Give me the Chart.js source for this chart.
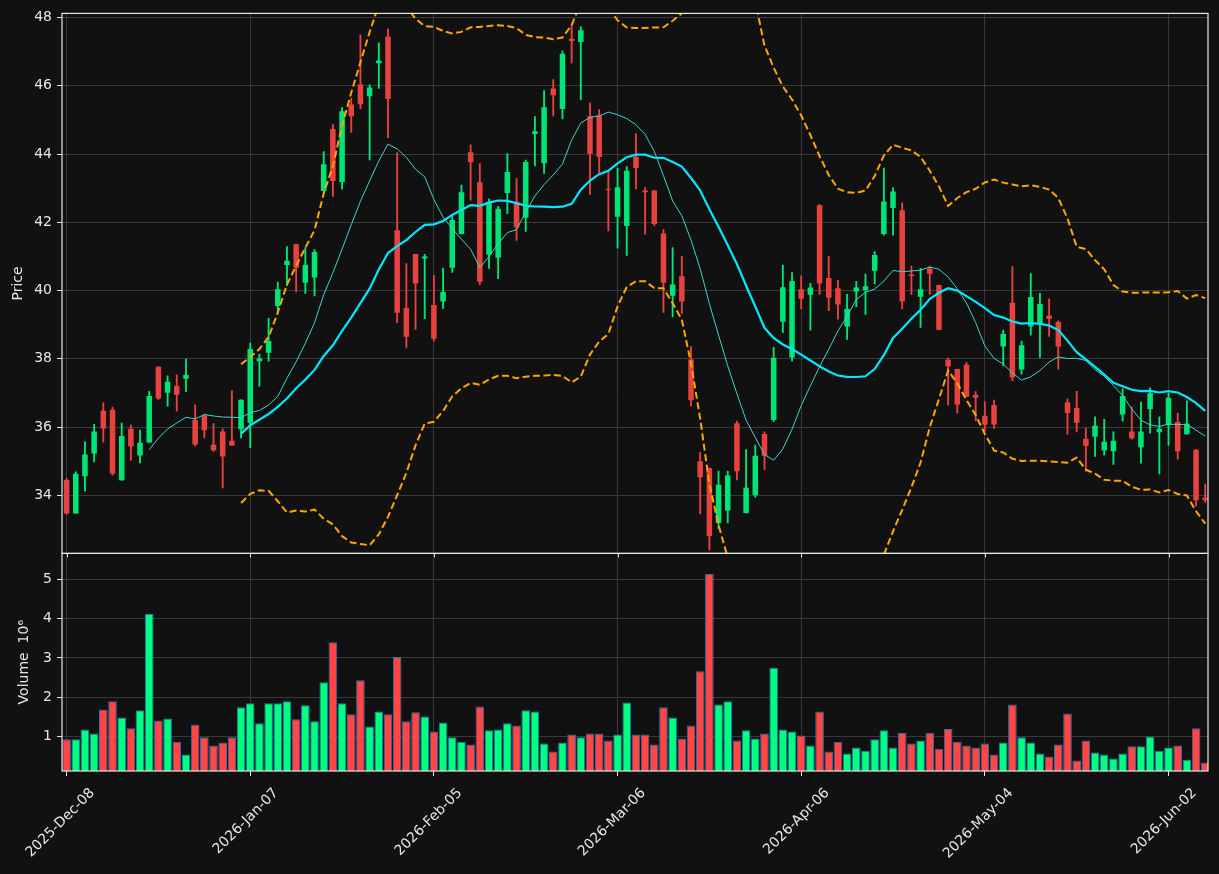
<!DOCTYPE html>
<html>
<head>
<meta charset="utf-8">
<script src="https://cdn.jsdelivr.net/npm/chart.js@4.4.1/dist/chart.umd.min.js"></script>
<style>
  html, body { margin: 0; padding: 0; background: #111111; }
  #wrap { width: 1219px; height: 874px; }
</style>
</head>
<body>
<div id="wrap"><canvas id="chartStock" width="1219" height="874"></canvas></div>
<script>
// daily OHLC (index 0 = 2025-12-08), volume in millions
const opens = [34.45,33.47,34.56,35.23,36.48,36.51,34.44,35.95,35.17,35.55,
  37.77,37.01,37.21,37.42,36.21,36.35,35.48,35.87,35.60,35.94,
  36.13,37.93,38.18,39.55,40.75,41.36,40.23,40.38,42.92,44.73,
  43.18,45.45,46.04,45.69,46.66,47.44,41.77,39.49,41.07,40.94,
  39.58,39.68,40.67,41.66,44.05,43.17,41.06,40.96,42.86,42.61,
  42.13,44.59,43.73,45.92,45.32,47.38,47.28,45.11,45.13,42.98,
  42.16,41.89,43.92,42.93,42.93,41.67,39.85,40.42,37.98,35.00,
  34.80,33.19,33.56,36.11,33.48,34.00,35.80,36.21,39.09,38.04,
  40.04,39.88,42.50,40.37,40.07,38.95,39.97,40.02,40.58,41.66,
  42.42,42.35,40.47,39.82,40.65,40.16,37.97,37.70,37.83,36.94,
  36.33,36.65,38.36,39.64,37.69,38.95,39.03,39.27,39.08,36.73,
  36.56,35.66,35.72,35.32,35.29,36.37,35.87,35.41,36.52,35.85,
  36.06,36.15,35.79,35.34,33.93];
const highs = [34.50,34.69,35.57,36.08,36.71,36.59,36.12,36.06,35.91,37.05,
  37.77,37.50,37.53,37.99,36.65,36.38,36.10,35.95,37.07,36.80,
  38.46,38.13,39.19,40.25,41.29,41.36,41.26,41.20,44.07,44.86,
  45.36,45.63,47.49,46.03,47.26,47.67,44.04,40.79,41.07,41.06,
  40.45,40.65,42.18,43.09,44.27,43.72,42.68,42.47,44.01,43.28,
  43.82,45.10,45.86,46.18,47.02,47.77,47.73,45.50,45.30,43.50,
  43.59,43.63,44.60,43.02,42.93,41.79,41.26,41.00,38.36,35.26,
  34.80,34.71,34.71,36.18,35.34,35.47,35.86,38.34,40.75,40.53,
  40.43,40.21,42.53,41.00,40.30,39.89,40.27,40.48,41.14,43.59,
  43.02,42.57,40.72,40.65,40.72,40.16,38.03,37.70,37.89,37.04,
  36.74,36.79,38.84,40.70,38.52,40.50,39.92,39.76,39.11,36.82,
  37.05,35.97,36.30,36.23,35.86,37.12,36.59,36.73,37.15,36.30,
  36.99,36.40,36.77,35.34,34.33];
const lows = [33.45,33.47,34.12,34.98,35.56,34.59,34.44,35.03,34.95,35.55,
  36.81,36.61,36.47,37.04,35.45,35.68,35.29,34.22,35.46,35.68,
  35.40,37.20,37.93,39.33,40.14,39.96,39.92,39.84,42.92,42.76,
  42.97,44.63,45.33,43.83,45.92,44.48,39.06,38.32,38.86,39.18,
  38.52,39.47,40.53,41.66,42.65,40.17,40.65,40.35,42.25,41.47,
  41.73,43.65,43.43,45.12,45.03,46.67,45.59,42.82,43.45,41.75,
  41.24,41.03,42.98,41.65,41.90,39.36,39.23,39.33,36.61,33.46,
  32.40,33.03,33.19,34.45,33.48,33.95,34.76,36.16,38.77,37.93,
  39.46,38.84,39.89,39.41,39.16,38.57,39.53,39.30,40.20,41.62,
  41.62,39.46,39.89,38.92,39.89,38.85,36.64,36.41,36.89,36.18,
  35.88,35.96,37.81,37.35,37.55,38.69,38.04,38.66,37.70,35.79,
  35.86,34.71,35.14,35.18,34.91,36.18,35.65,34.94,35.82,34.63,
  35.47,35.06,35.79,33.69,33.79];
const closes = [33.47,34.63,35.20,35.87,35.96,34.64,35.74,35.44,35.54,36.91,
  36.84,37.33,36.95,37.53,35.49,35.91,35.32,35.14,35.46,36.80,
  38.29,38.01,38.52,40.04,40.87,40.67,40.76,41.13,43.70,43.21,
  45.25,45.11,45.46,45.95,46.74,45.61,39.35,38.65,40.21,41.00,
  38.59,39.96,42.07,42.88,43.77,40.26,42.60,42.40,43.47,41.85,
  43.77,44.67,45.37,45.72,46.94,47.31,47.63,44.01,43.91,42.95,
  43.03,43.51,43.59,42.88,41.95,40.23,40.18,39.68,36.79,34.53,
  32.81,34.31,34.58,34.71,34.22,35.16,35.16,38.03,40.10,40.28,
  39.76,40.09,40.21,39.79,39.59,39.46,40.09,40.13,41.04,42.61,
  42.90,39.69,40.43,40.04,40.49,38.85,37.78,36.66,36.89,36.86,
  36.07,36.08,38.73,37.45,38.40,39.81,39.61,39.17,38.36,36.41,
  36.13,35.45,36.04,35.57,35.60,36.91,35.67,35.87,36.99,35.95,
  36.86,35.29,36.10,33.86,33.86];
const volumes = [0.92,0.92,1.17,1.07,1.68,1.89,1.48,1.20,1.66,4.12,
  1.40,1.45,0.86,0.53,1.30,0.97,0.76,0.84,0.97,1.74,
  1.84,1.33,1.84,1.84,1.89,1.43,1.79,1.38,2.38,3.40,
  1.84,1.56,2.43,1.25,1.63,1.56,3.02,1.38,1.61,1.50,
  1.12,1.35,0.97,0.86,0.79,1.76,1.15,1.17,1.33,1.27,
  1.66,1.63,0.81,0.61,0.84,1.04,0.97,1.07,1.07,0.89,
  1.04,1.86,1.04,1.04,0.79,1.74,1.48,0.94,1.27,2.66,
  5.15,1.81,1.89,0.89,1.15,0.94,1.07,2.74,1.17,1.12,
  1.02,0.76,1.63,0.61,0.86,0.56,0.71,0.63,0.92,1.15,
  0.71,1.08,0.81,0.89,1.09,0.68,1.18,0.86,0.76,0.71,
  0.81,0.53,0.84,1.81,0.97,0.84,0.56,0.48,0.79,1.58,
  0.38,0.89,0.58,0.53,0.43,0.56,0.74,0.74,0.99,0.63,
  0.71,0.76,0.40,1.20,0.33];

const tickIdx = [0, 20, 40, 60, 80, 100, 120];
const tickLabels = ['2025-Dec-08', '2026-Jan-07', '2026-Feb-05', '2026-Mar-06',
  '2026-Apr-06', '2026-May-04', '2026-Jun-02'];
const priceTicks = [34, 36, 38, 40, 42, 44, 46, 48];
const volumeTicks = [1, 2, 3, 4, 5];

// moving averages / bollinger bands from the closes
function rolling(arr, n, fn) {
  return arr.map((_, i) => i < n - 1 ? null : fn(arr.slice(i - n + 1, i + 1)));
}
const mean = a => a.reduce((s, v) => s + v, 0) / a.length;
const std = a => { const m = mean(a); return Math.sqrt(a.reduce((s, v) => s + (v - m) * (v - m), 0) / (a.length - 1)); };
const ma10 = rolling(closes, 10, mean);
const ma20 = rolling(closes, 20, mean);
const sd20 = rolling(closes, 20, std);
const bbUp = ma20.map((m, i) => m === null ? null : m + 2 * sd20[i]);
const bbLo = ma20.map((m, i) => m === null ? null : m - 2 * sd20[i]);

const isUp = closes.map((c, i) => c >= opens[i]);
const candleCol = isUp.map(u => u ? '#00e676' : '#e8423f');
const volCol = isUp.map(u => u ? '#00ff80' : '#ff4545');
const pts = arr => arr.map((v, i) => ({ x: i, y: v }));

const FONT = 'DejaVu Sans';
const TXT = '#e6e6e6';
const GRID = '#383838';
Chart.defaults.font.family = FONT;

const panelFrame = {
  id: 'panelFrame',
  afterDraw(chart) {
    const { ctx, scales } = chart;
    const x = scales.x;
    ctx.save();
    ctx.strokeStyle = TXT;
    ctx.lineWidth = 1.2;
    [scales.yPrice, scales.yVol].forEach(s => {
      ctx.strokeRect(x.left, s.top, x.right - x.left, s.bottom - s.top);
    });
    ctx.lineWidth = 1;
    tickIdx.forEach(v => {
      const px = Math.round(x.getPixelForValue(v)) + 0.5;
      ctx.beginPath();
      ctx.moveTo(px, scales.yPrice.bottom);
      ctx.lineTo(px, scales.yPrice.bottom + 4);
      ctx.stroke();
    });
    ctx.restore();
  }
};

const yCommon = {
  type: 'linear',
  position: 'left',
  stack: 'panels',
  grid: { color: GRID, borderDash: [4, 2.5], tickColor: TXT, tickLength: 5, tickWidth: 1, tickBorderDash: [] },
  border: { display: false },
  afterFit: s => { s.width = 62; }
};

new Chart(document.getElementById('chartStock'), {
  type: 'bar',
  data: {
    datasets: [
      { type: 'line', label: 'MA10', yAxisID: 'yPrice', data: pts(ma10), borderColor: '#3fd4cc',
        borderWidth: 1, pointRadius: 0, tension: 0, order: 0, clip: 0 },
      { type: 'line', label: 'MA20', yAxisID: 'yPrice', data: pts(ma20), borderColor: '#00eaff',
        borderWidth: 2.2, pointRadius: 0, tension: 0, order: 0, clip: 0 },
      { type: 'line', label: 'BB upper', yAxisID: 'yPrice', data: pts(bbUp), borderColor: '#ffa500',
        borderWidth: 2, borderDash: [7, 3.5], pointRadius: 0, tension: 0, order: 0, clip: 0 },
      { type: 'line', label: 'BB lower', yAxisID: 'yPrice', data: pts(bbLo), borderColor: '#ffa500',
        borderWidth: 2, borderDash: [7, 3.5], pointRadius: 0, tension: 0, order: 0, clip: 0 },
      { label: 'body', yAxisID: 'yPrice', data: closes.map((c, i) => ({ x: i, y: [opens[i], c] })),
        backgroundColor: candleCol, grouped: false, barPercentage: 0.6, categoryPercentage: 1,
        minBarLength: 1, order: 1 },
      { label: 'wick', yAxisID: 'yPrice', data: closes.map((c, i) => ({ x: i, y: [lows[i], highs[i]] })),
        backgroundColor: candleCol, grouped: false, maxBarThickness: 1.2, categoryPercentage: 1,
        barPercentage: 1, order: 2 },
      { label: 'Volume', yAxisID: 'yVol', data: pts(volumes), backgroundColor: volCol,
        borderColor: '#1f77b4', borderWidth: 1, borderSkipped: false, grouped: false,
        barPercentage: 0.94, categoryPercentage: 1, order: 3 }
    ]
  },
  options: {
    responsive: false,
    animation: false,
    devicePixelRatio: 1,
    layout: { padding: { top: 12, right: 11, bottom: 0, left: 0 } },
    plugins: { legend: { display: false }, tooltip: { enabled: false } },
    scales: {
      x: {
        type: 'linear',
        min: -0.5,
        max: 124.3,
        offset: false,
        afterBuildTicks: s => { s.ticks = tickIdx.map(v => ({ value: v })); },
        afterFit: s => { s.height = 103; s.paddingLeft = 0; s.paddingRight = 0; },
        grid: { offset: false, color: GRID, borderDash: [4, 2.5], tickColor: TXT, tickLength: 5, tickWidth: 1, tickBorderDash: [] },
        border: { display: false },
        ticks: {
          color: TXT, font: { size: 14 }, minRotation: 45, maxRotation: 45, autoSkip: false,
          labelOffset: 26, padding: 9,
          callback: v => tickLabels[tickIdx.indexOf(v)]
        }
      },
      yVol: Object.assign({}, yCommon, {
        stackWeight: 218,
        min: 0.11,
        max: 5.67,
        afterBuildTicks: s => { s.ticks = volumeTicks.map(v => ({ value: v })); },
        ticks: { color: TXT, font: { size: 14 }, padding: 5 },
        title: { display: true, text: 'Volume  10\u2076', color: TXT, font: { size: 14 }, padding: { top: 16, bottom: 0 } }
      }),
      yPrice: Object.assign({}, yCommon, {
        stackWeight: 541,
        min: 32.30,
        max: 48.12,
        afterBuildTicks: s => { s.ticks = priceTicks.map(v => ({ value: v })); },
        ticks: { color: TXT, font: { size: 14 }, padding: 5 },
        title: { display: true, text: 'Price', color: TXT, font: { size: 14 }, padding: { top: 10, bottom: 0 } }
      })
    }
  },
  plugins: [panelFrame]
});
</script>
</body>
</html>
